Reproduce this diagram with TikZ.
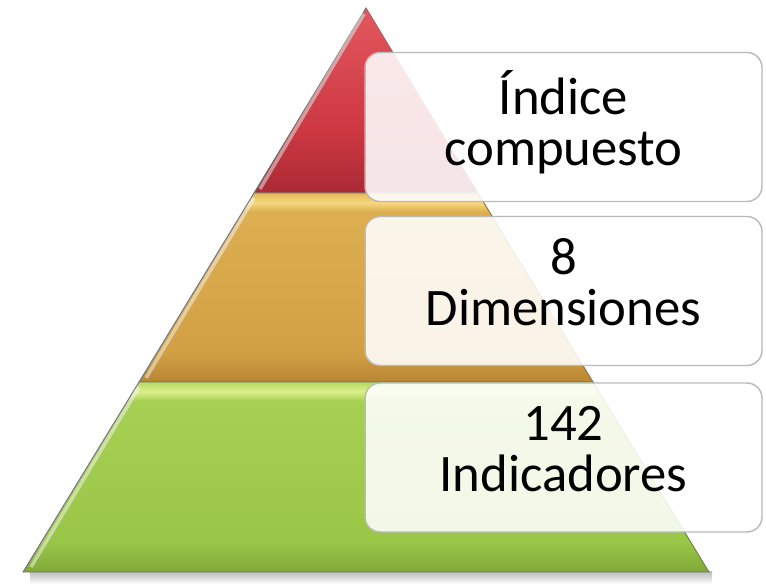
\documentclass[tikz,border=0pt]{standalone}
\usepackage{fontspec}
\setmainfont{Carlito}
% layer shadings: 25bp = bottom of the path, 75bp = top
\pgfdeclareverticalshading{redlayer}{100bp}{%
  color(0bp)=(rgb,255:red,170;green,42;blue,52);
  color(25bp)=(rgb,255:red,170;green,42;blue,52);
  color(42bp)=(rgb,255:red,205;green,56;blue,66);
  color(75bp)=(rgb,255:red,226;green,88;blue,94);
  color(100bp)=(rgb,255:red,226;green,88;blue,94)}
\pgfdeclareverticalshading{orangelayer}{100bp}{%
  color(0bp)=(rgb,255:red,185;green,135;blue,52);
  color(25bp)=(rgb,255:red,185;green,135;blue,52);
  color(33bp)=(rgb,255:red,210;green,160;blue,68);
  color(70bp)=(rgb,255:red,221;green,175;blue,80);
  color(72.5bp)=(rgb,255:red,246;green,216;blue,126);
  color(75bp)=(rgb,255:red,228;green,186;blue,88);
  color(100bp)=(rgb,255:red,228;green,186;blue,88)}
\pgfdeclareverticalshading{greenlayer}{100bp}{%
  color(0bp)=(rgb,255:red,128;green,168;blue,56);
  color(25bp)=(rgb,255:red,128;green,168;blue,56);
  color(33bp)=(rgb,255:red,154;green,198;blue,72);
  color(70bp)=(rgb,255:red,166;green,208;blue,82);
  color(72.5bp)=(rgb,255:red,220;green,240;blue,140);
  color(75bp)=(rgb,255:red,180;green,216;blue,96);
  color(100bp)=(rgb,255:red,180;green,216;blue,96)}
\tikzset{
  layer/.style = {draw=black!55, line width=0.5pt, shading=#1},
  bevel/.style = {draw=white, opacity=0.45, line width=2pt},
  levelbox/.style = {draw=gray!55, line width=0.8pt, rounded corners=0.3cm,
                     fill=white, fill opacity=0.88, text opacity=1,
                     minimum width=7.94cm, minimum height=2.98cm,
                     text depth=0.36cm,
                     align=center, font=\fontsize{30}{29}\selectfont}
}

\begin{document}
\begin{tikzpicture}[x=0.02cm, y=-0.02cm]
	\useasboundingbox (0,0) rectangle (766,587);

	% Shadow under the base
	\shade[top color=gray!55, bottom color=white] (30,571) rectangle (712,584);

	% Layers (top to bottom)
	\shade[layer=redlayer]    (366,8) -- (478,193) -- (254,193) -- cycle; % top
	\shade[layer=orangelayer] (254,193) -- (478,193) -- (593,382) -- (139,382) -- cycle; % middle
	\shade[layer=greenlayer]  (139,382) -- (593,382) -- (709,572) -- (23,572) -- cycle; % base

	% Left edge highlights
	\draw[bevel] (364,14) -- (260,189);
	\draw[bevel] (254,198) -- (146,378);
	\draw[bevel] (139,387) -- (31,567);

	% Boxes
	\node[levelbox] (indice) at (563.5,127) {Índice\\compuesto};
	\node[levelbox] (dimens) at (563.5,291) {8\\Dimensiones};
	\node[levelbox] (indic)  at (563.5,457.5) {142\\Indicadores};

\end{tikzpicture}
\end{document}
